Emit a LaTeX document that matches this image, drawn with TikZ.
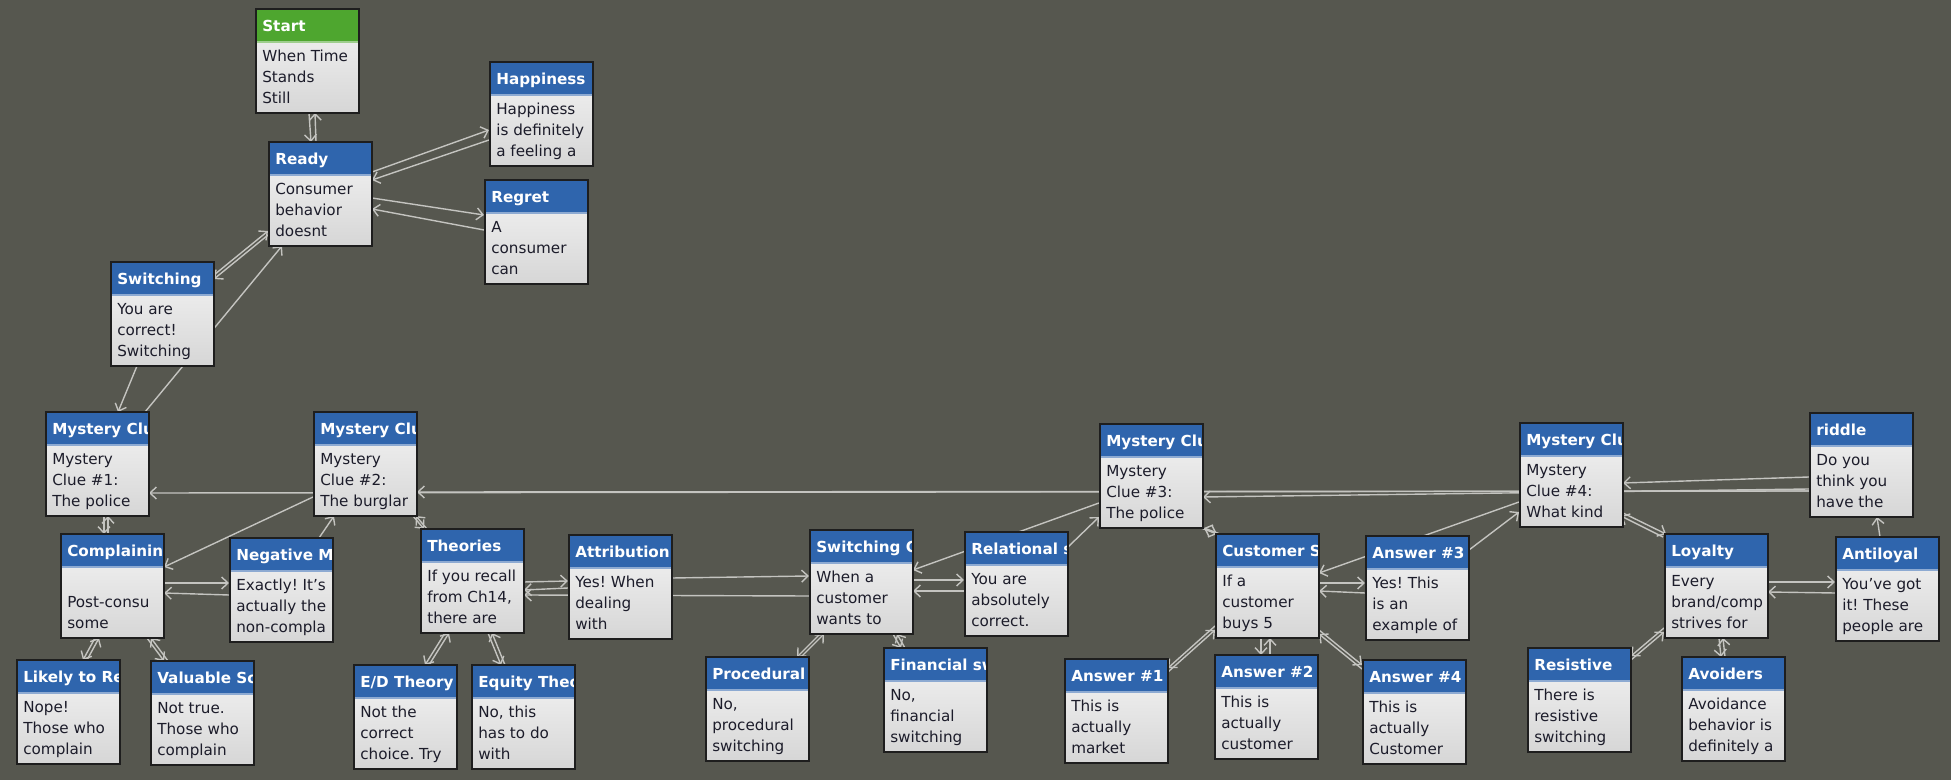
\documentclass[tikz,border=0pt]{standalone}
\usepackage{fontspec}
\setmainfont{DejaVu Sans}
\frenchspacing
\usetikzlibrary{calc,arrows.meta}
\definecolor{MapGround}{HTML}{56574F}
\definecolor{CardBlue}{HTML}{2F65AD}
\definecolor{CardGreen}{HTML}{4EA62F}
\definecolor{CardRim}{HTML}{1E1E1E}
\definecolor{CardInk}{HTML}{1C1C2A}
\definecolor{LinkGray}{HTML}{C4C4C0}
\pgfdeclarelayer{ground}
\pgfdeclarelayer{links}
\pgfsetlayers{ground,links,main}

\begin{document}
\begin{tikzpicture}[x=0.5pt,y=-0.5pt,
  cardcolor/.store in=\cardhead, cardcolor=CardBlue,
  cardtext/.style={inner sep=0pt,minimum width=0pt,minimum height=0pt,draw=none,fill=none,
    anchor=base west,align=left},
  card/.style 2 args={draw=CardRim,line width=1pt,inner sep=0pt,
    minimum width=51.5pt,minimum height=52pt,
    top color=white!96!black,bottom color=black!16,
    path picture={
      \fill[\cardhead] (path picture bounding box.north west) rectangle
        ([yshift=-16.5pt]path picture bounding box.north east);
      \fill[\cardhead!55!white] ([yshift=-15.8pt]path picture bounding box.north west) rectangle
        ([yshift=-16.8pt]path picture bounding box.north east);
      \node[cardtext,text=white,font=\fontsize{7.6}{10.5}\selectfont\bfseries]
        at ([shift={(2.9pt,-11.4pt)}]path picture bounding box.north west) {#1};
      \node[cardtext,text=CardInk,font=\fontsize{7.6}{10.5}\selectfont]
        at ([shift={(2.9pt,-47.4pt)}]path picture bounding box.north west) {#2};
    }},
  link/.style={draw=LinkGray,line width=0.7pt,-{Straight Barb[length=3.2pt,width=6pt]}}]
\begin{pgfonlayer}{ground}
\fill[MapGround] (0,0) rectangle (1951,780);
\end{pgfonlayer}
\useasboundingbox (0,0) rectangle (1951,780);

% cards
\node[cardcolor=CardGreen,card={Start}{When Time\\Stands\\Still}] (start) at (307,61) {};
\node[card={Ready}{Consumer\\behavior\\doesnt}] (ready) at (320,194) {};
\node[card={Happiness}{Happiness\\is definitely\\a feeling a}] (happiness) at (541,114) {};
\node[card={Regret}{A\\consumer\\can}] (regret) at (536,232) {};
\node[card={Switching}{You are\\correct!\\Switching}] (switching) at (162,314) {};
\node[card={Mystery Clu}{Mystery\\Clue \#1:\\The police}] (clueone) at (97,464) {};
\node[card={Mystery Clu}{Mystery\\Clue \#2:\\The burglar}] (cluetwo) at (365,464) {};
\node[card={Complainin}{\mbox{}\\Post-consu\\some}] (complaining) at (112,586) {};
\node[card={Negative M}{Exactly! It's\\actually the\\non-compla}] (negative) at (281,590) {};
\node[card={Theories}{If you recall\\from Ch14,\\there are}] (theories) at (472,581) {};
\node[card={Attribution}{Yes! When\\dealing\\with}] (attribution) at (620,587) {};
\node[card={Likely to Re}{Nope!\\Those who\\complain}] (likely) at (68,712) {};
\node[card={Valuable Sc}{Not true.\\Those who\\complain}] (valuable) at (202,713) {};
\node[card={E/D Theory}{Not the\\correct\\choice. Try}] (edtheory) at (405,717) {};
\node[card={Equity Theo}{No, this\\has to do\\with}] (equity) at (523,717) {};
\node[card={Switching C}{When a\\customer\\wants to}] (switchcost) at (861,582) {};
\node[card={Relational s}{You are\\absolutely\\correct.}] (relational) at (1016,584) {};
\node[card={Procedural}{No,\\procedural\\switching}] (procedural) at (757,709) {};
\node[card={Financial sw}{No,\\financial\\switching}] (financial) at (935,700) {};
\node[card={Mystery Clu}{Mystery\\Clue \#3:\\The police}] (cluethree) at (1151,476) {};
\node[card={Customer S}{If a\\customer\\buys 5}] (customer) at (1267,586) {};
\node[card={Answer \#3}{Yes! This\\is an\\example of}] (answerthree) at (1417,588) {};
\node[card={Answer \#1}{This is\\actually\\market}] (answerone) at (1116,711) {};
\node[card={Answer \#2}{This is\\actually\\customer}] (answertwo) at (1266,707) {};
\node[card={Answer \#4}{This is\\actually\\Customer}] (answerfour) at (1414,712) {};
\node[card={Mystery Clu}{Mystery\\Clue \#4:\\What kind}] (cluefour) at (1571,475) {};
\node[card={riddle}{Do you\\think you\\have the}] (riddle) at (1861,465) {};
\node[card={Loyalty}{Every\\brand/comp\\strives for}] (loyalty) at (1716,586) {};
\node[card={Antiloyal}{You've got\\it! These\\people are}] (antiloyal) at (1887,589) {};
\node[card={Resistive}{There is\\resistive\\switching}] (resistive) at (1579,700) {};
\node[card={Avoiders}{Avoidance\\behavior is\\definitely a}] (avoiders) at (1733,709) {};

% connectors, behind the cards
\begin{pgfonlayer}{links}
\draw[link] ($(start)+(2,52)$) -- ($(ready)+(-9,-52)$);
\draw[link] ($(ready)+(-4,-52)$) -- ($(start)+(8,52)$);
\draw[link] ($(ready)+(52,-22)$) -- ($(happiness)+(-52,16)$);
\draw[link] ($(happiness)+(-52,26)$) -- ($(ready)+(52,-14)$);
\draw[link] ($(ready)+(52,4)$) -- ($(regret)+(-52,-17)$);
\draw[link] ($(regret)+(-52,-2)$) -- ($(ready)+(52,15)$);
\draw[link] ($(switching)+(52,-39)$) -- ($(ready)+(-52,37)$);
\draw[link] ($(ready)+(-52,41)$) -- ($(switching)+(52,-35)$);
\draw[link] ($(clueone)+(48,-52)$) -- ($(ready)+(-38,52)$);
\draw[link] ($(switching)+(-25,52)$) -- ($(clueone)+(21,-52)$);
% riddle back to every clue
\draw[link] ($(riddle)+(-52,12)$) -- ($(cluefour)+(52,8)$);
\draw[link] ($(riddle)+(-52,24)$) -- ($(cluethree)+(52,21)$);
\draw[link] ($(riddle)+(-52,26)$) -- ($(cluetwo)+(52,28)$);
\draw[link] ($(riddle)+(-52,26)$) -- ($(clueone)+(52,29)$);
% complaining
\draw[link] ($(cluetwo)+(-52,33)$) -- ($(complaining)+(52,-19)$);
\draw[link] ($(negative)+(38,-52)$) -- ($(cluetwo)+(-31,52)$);
\draw[link] ($(complaining)+(52,-3)$) -- ($(negative)+(-52,-7)$);
\draw[link] ($(negative)+(-52,5)$) -- ($(complaining)+(52,7)$);
\draw[link] ($(clueone)+(7,52)$) -- ($(complaining)+(-8,-52)$);
\draw[link] ($(complaining)+(-4,-52)$) -- ($(clueone)+(11,52)$);
\draw[link] ($(complaining)+(-17,52)$) -- ($(likely)+(15,-52)$);
\draw[link] ($(likely)+(19,-52)$) -- ($(complaining)+(-13,52)$);
\draw[link] ($(complaining)+(35,52)$) -- ($(valuable)+(-38,-52)$);
\draw[link] ($(valuable)+(-34,-52)$) -- ($(complaining)+(39,52)$);
% theories
\draw[link] ($(cluetwo)+(48,52)$) -- ($(theories)+(-48,-52)$);
\draw[link] ($(theories)+(-45,-52)$) -- ($(cluetwo)+(51,52)$);
\draw[link] ($(theories)+(52,1)$) -- ($(attribution)+(-52,-6)$);
\draw[link] ($(attribution)+(-52,1)$) -- ($(theories)+(52,9)$);
\draw[link] ($(switchcost)+(-52,14)$) -- ($(theories)+(52,14)$);
\draw[link] ($(theories)+(-27,52)$) -- ($(edtheory)+(20,-52)$);
\draw[link] ($(edtheory)+(24,-52)$) -- ($(theories)+(-23,52)$);
\draw[link] ($(theories)+(16,52)$) -- ($(equity)+(-22,-52)$);
\draw[link] ($(equity)+(-18,-52)$) -- ($(theories)+(20,52)$);
% switching cost
\draw[link] ($(attribution)+(52,-9)$) -- ($(switchcost)+(-52,-6)$);
\draw[link] ($(switchcost)+(52,-2)$) -- ($(relational)+(-52,-4)$);
\draw[link] ($(relational)+(-52,7)$) -- ($(switchcost)+(52,9)$);
\draw[link] ($(cluethree)+(-52,27)$) -- ($(switchcost)+(52,-12)$);
\draw[link] ($(relational)+(52,-37)$) -- ($(cluethree)+(-52,41)$);
\draw[link] ($(switchcost)+(-41,52)$) -- ($(procedural)+(40,-52)$);
\draw[link] ($(procedural)+(44,-52)$) -- ($(switchcost)+(-37,52)$);
\draw[link] ($(switchcost)+(32,52)$) -- ($(financial)+(-34,-52)$);
\draw[link] ($(financial)+(-30,-52)$) -- ($(switchcost)+(36,52)$);
% customer
\draw[link] ($(cluethree)+(50,52)$) -- ($(customer)+(-50,-52)$);
\draw[link] ($(customer)+(-47,-52)$) -- ($(cluethree)+(53,52)$);
\draw[link] ($(customer)+(-52,40)$) -- ($(answerone)+(52,-43)$);
\draw[link] ($(answerone)+(52,-39)$) -- ($(customer)+(-52,44)$);
\draw[link] ($(customer)+(-6,52)$) -- ($(answertwo)+(-5,-52)$);
\draw[link] ($(answertwo)+(4,-52)$) -- ($(customer)+(3,52)$);
\draw[link] ($(customer)+(52,-3)$) -- ($(answerthree)+(-52,-5)$);
\draw[link] ($(answerthree)+(-52,5)$) -- ($(customer)+(52,5)$);
\draw[link] ($(cluefour)+(-52,27)$) -- ($(customer)+(52,-13)$);
\draw[link] ($(answerthree)+(52,-38)$) -- ($(cluefour)+(-52,37)$);
\draw[link] ($(customer)+(52,44)$) -- ($(answerfour)+(-52,-47)$);
\draw[link] ($(answerfour)+(-52,-43)$) -- ($(customer)+(52,48)$);
% loyalty
\draw[link] ($(cluefour)+(52,38)$) -- ($(loyalty)+(-50,-52)$);
\draw[link] ($(loyalty)+(-53,-49)$) -- ($(cluefour)+(50,41)$);
\draw[link] ($(loyalty)+(52,-4)$) -- ($(antiloyal)+(-52,-7)$);
\draw[link] ($(antiloyal)+(-52,4)$) -- ($(loyalty)+(52,6)$);
\draw[link] ($(antiloyal)+(-7,-52)$) -- ($(riddle)+(16,52)$);
\draw[link] ($(loyalty)+(-52,42)$) -- ($(resistive)+(52,-44)$);
\draw[link] ($(resistive)+(52,-40)$) -- ($(loyalty)+(-52,46)$);
\draw[link] ($(loyalty)+(3,52)$) -- ($(avoiders)+(-12,-52)$);
\draw[link] ($(avoiders)+(-8,-52)$) -- ($(loyalty)+(7,52)$);
\end{pgfonlayer}
\end{tikzpicture}
\end{document}
